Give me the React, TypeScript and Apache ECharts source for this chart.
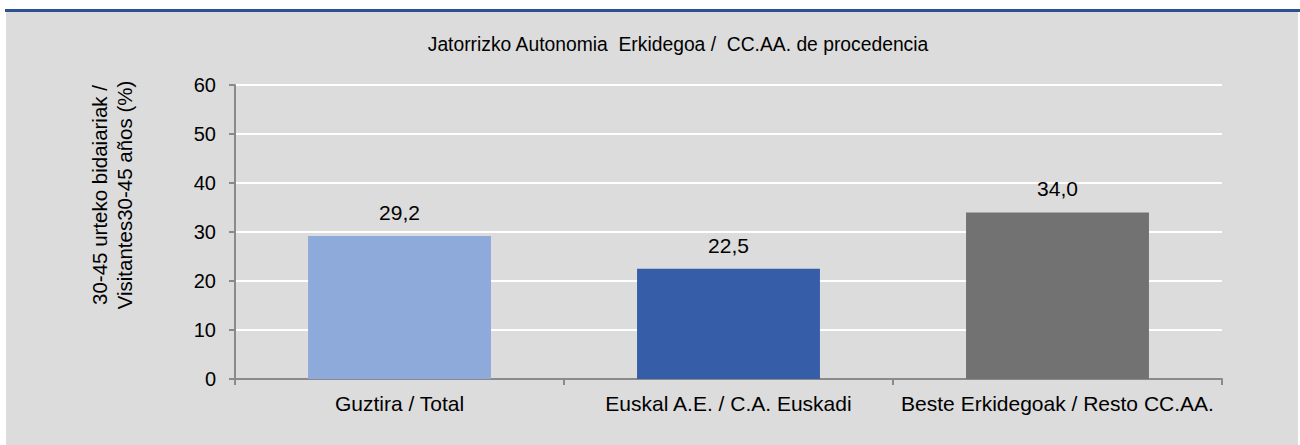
import React, { useEffect, useRef } from "react";
import * as echarts from "echarts";

const categories = ["Guztira / Total", "Euskal A.E. / C.A. Euskadi", "Beste Erkidegoak / Resto CC.AA."];
const values = [29.2, 22.5, 34.0];
const barColors = ["#8eaadb", "#365ea8", "#727272"];
const titleText = "Jatorrizko Autonomia  Erkidegoa /  CC.AA. de procedencia";
const yAxisName = "30-45 urteko bidaiariak /\nVisitantes30-45 años (%)";

const FONT = "'Liberation Sans', Arial, sans-serif";

export default function App() {
  const ref = useRef<HTMLDivElement>(null);
  useEffect(() => {
    document.body.style.margin = "0";
    const chart = echarts.init(ref.current!, null, { renderer: "svg" });
    chart.setOption({
      animation: false,
      backgroundColor: "#ffffff",
      textStyle: { fontFamily: FONT },
      graphic: [
        { type: "rect", z: -10, shape: { x: 6, y: 12, width: 1292, height: 433 }, style: { fill: "#dcdcdc" } },
        { type: "rect", z: -10, shape: { x: 5, y: 9, width: 1295, height: 3 }, style: { fill: "#2f5090" } },
        {
          type: "text",
          x: 678,
          y: 44,
          style: { text: titleText, fontSize: 19.3, fontFamily: FONT, fill: "#000", align: "center", verticalAlign: "middle" },
        },
        {
          type: "text",
          x: 112,
          y: 195,
          rotation: Math.PI / 2,
          style: {
            text: yAxisName,
            fontSize: 20.5,
            lineHeight: 25,
            fontFamily: FONT,
            fill: "#000",
            align: "center",
            verticalAlign: "middle",
          },
        },
      ],
      grid: { left: 235, right: 78, top: 85, bottom: 66, containLabel: false },
      xAxis: {
        type: "category",
        data: categories,
        axisLine: { show: true, lineStyle: { color: "#8a8a8a", width: 2 } },
        axisTick: { show: true, interval: 0, length: 6, lineStyle: { color: "#8a8a8a", width: 2 } },
        axisLabel: { interval: 0, fontSize: 21, color: "#000", margin: 14, fontFamily: FONT },
        splitLine: { show: false },
      },
      yAxis: {
        type: "value",
        min: 0,
        max: 60,
        interval: 10,
        axisLine: { show: true, lineStyle: { color: "#8a8a8a", width: 2 } },
        axisTick: { show: true, length: 6, lineStyle: { color: "#8a8a8a", width: 2 } },
        axisLabel: { fontSize: 20, color: "#000", margin: 19, fontFamily: FONT },
        splitLine: { show: true, lineStyle: { color: "#ffffff", width: 2 } },
      },
      series: [
        {
          type: "bar",
          barWidth: "55.6%",
          data: values.map((v, i) => ({ value: v, itemStyle: { color: barColors[i] } })),
          label: {
            show: true,
            position: "top",
            distance: 13,
            fontSize: 21,
            color: "#000",
            fontFamily: FONT,
            formatter: (p: any) => p.value.toFixed(1).replace(".", ","),
          },
        },
      ],
    });
    return () => chart.dispose();
  }, []);
  return <div ref={ref} style={{ width: 1300, height: 445 }} />;
}
